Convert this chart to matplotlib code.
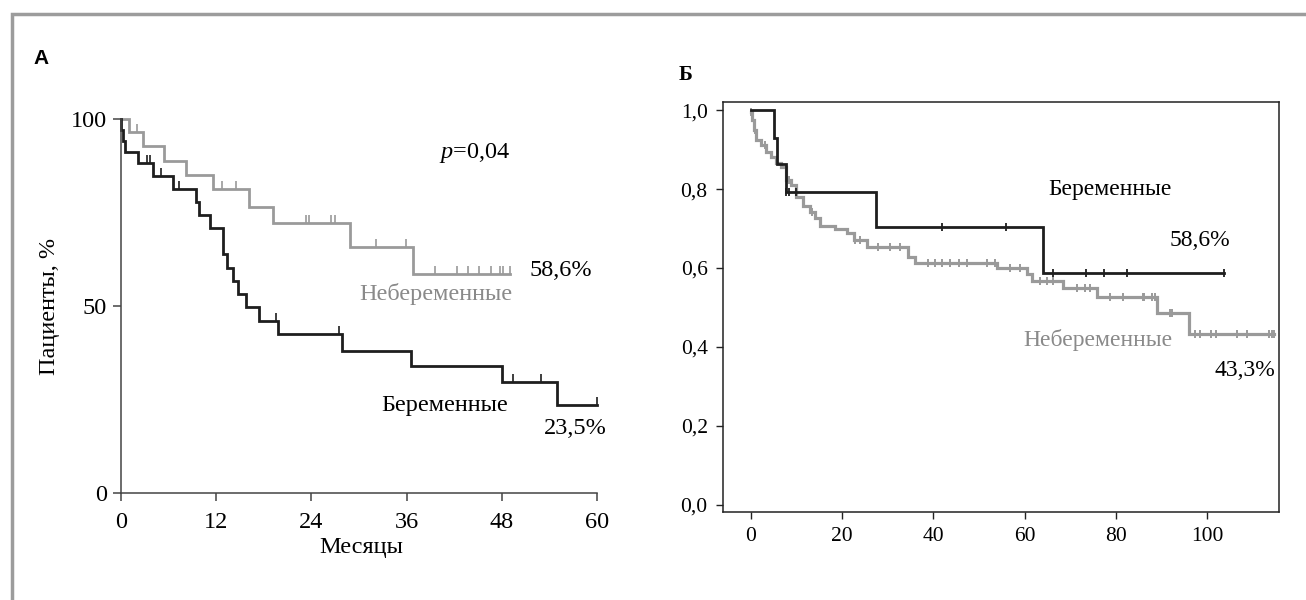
import numpy as np
import matplotlib.pyplot as plt
from matplotlib.patches import Rectangle

plt.rcParams['font.family'] = ['Liberation Serif', 'DejaVu Serif']
plt.rcParams['mathtext.fontset'] = 'custom'
plt.rcParams['mathtext.it'] = 'Liberation Serif:italic'
plt.rcParams['mathtext.rm'] = 'Liberation Serif'

W, H = 1306, 600

# Panel A: months / percent
a_gray_t = [0, 1.0, 2.8, 5.4, 8.2, 11.6, 16.1, 19.2, 28.9, 36.8]
a_gray_s = [100, 96.5, 92.7, 88.9, 85.1, 81.3, 76.6, 72.1, 65.9, 58.6]
a_gray_cens = [2.0, 12.7, 14.5, 23.3, 23.7, 26.5, 27.0, 32.1, 35.9, 39.6,
               42.3, 43.7, 45.1, 46.6, 47.8, 48.1, 49.0]
a_black_t = [0, 0.05, 0.2, 0.5, 2.1, 4.0, 6.5, 9.5, 9.8, 11.2, 12.8, 13.3,
             14.1, 14.8, 15.8, 17.4, 19.8, 27.8, 36.6, 48.0, 55.0]
a_black_s = [100, 97.1, 94.1, 91.2, 88.2, 84.8, 81.3, 77.8, 74.3, 70.8, 63.9,
             60.1, 56.6, 53.2, 49.6, 46.1, 42.4, 38.0, 33.9, 29.6, 23.5]
a_black_cens = [3.3, 3.7, 5.1, 7.3, 19.5, 27.5, 49.4, 52.9, 60.0]
a_xticks = [0, 12, 24, 36, 48, 60]
a_yticks = [0, 50, 100]

# Panel B: months / proportion
b_black_t = [0, 5.0, 5.8, 7.6, 27.4, 63.9]
b_black_s = [1.0, 0.93, 0.865, 0.793, 0.705, 0.586]
b_black_cens = [7.7, 8.3, 9.9, 41.9, 55.9, 66.2, 73.4, 77.3, 82.4, 103.6]
b_gray_t = [0, 0.3, 0.6, 1.2, 2.3, 3.4, 4.5, 5.6, 6.7, 7.8, 8.9, 10.0, 11.5,
            12.9, 14.0, 15.1, 18.4, 21.0, 22.5, 25.4, 34.5, 36.0, 53.9, 60.5,
            61.5, 68.4, 75.8, 89.0, 95.9]
b_gray_s = [0.995, 0.975, 0.95, 0.925, 0.911, 0.895, 0.882, 0.866, 0.856,
            0.824, 0.81, 0.78, 0.756, 0.743, 0.726, 0.706, 0.70, 0.688, 0.671,
            0.654, 0.627, 0.612, 0.600, 0.585, 0.567, 0.549, 0.527, 0.486,
            0.433]
b_gray_cens = [0.1, 1.0, 3.0, 8.3, 13.5, 22.8, 23.9, 27.9, 30.5, 32.7, 38.9,
               40.3, 41.8, 43.6, 45.5, 47.4, 51.7, 53.5, 56.8, 59.0, 63.4,
               64.8, 66.3, 71.4, 73.2, 74.3, 78.7, 81.6, 85.8, 86.2, 87.9,
               88.6, 91.8, 92.2, 97.4, 98.5, 100.7, 101.8, 106.5, 108.7,
               113.5, 114.2, 114.5]
b_xticks = [0, 20, 40, 60, 80, 100]
b_yticks = [0.0, 0.2, 0.4, 0.6, 0.8, 1.0]

GRAY = '#9a9a9a'
BLACK = '#1e1e1e'


def km(ax, t, s, cens, color, lw, marker, ms, mew):
    t = np.array(t, dtype=float)
    s = np.array(s, dtype=float)
    end = max(t[-1], max(cens))
    xs = np.append(t, end)
    ys = np.append(s, s[-1])
    ax.step(xs, ys, where='post', color=color, lw=lw, clip_on=False,
            solid_joinstyle='miter')
    c = np.array(cens)
    cy = s[np.searchsorted(t, c, side='right') - 1]
    ax.plot(c, cy, ls='none', marker=marker, ms=ms, mew=mew, color=color,
            clip_on=False)


def ftext(x, y, s, **kw):
    fig.text(x / W, 1 - y / H, s, **kw)


fig = plt.figure(figsize=(W / 100, H / 100), dpi=100)

# outer frame
fig.add_artist(Rectangle((12 / W, -0.05), 1.1, 1 - 14 / H + 0.05,
                         transform=fig.transFigure, fill=False,
                         edgecolor='#9c9c9c', lw=2.5))

# ---- panel A ----
axA = fig.add_axes([121 / W, 1 - 493 / H, 476 / W, 374 / H])
km(axA, a_gray_t, a_gray_s, a_gray_cens, GRAY, 2.0, 2, 6, 1.2)
km(axA, a_black_t, a_black_s, a_black_cens, BLACK, 2.0, 2, 6, 1.2)
axA.set_xlim(0, 60)
axA.set_ylim(0, 100)
for sp in ['top', 'right']:
    axA.spines[sp].set_visible(False)
for sp in ['left', 'bottom']:
    axA.spines[sp].set_color('#444444')
    axA.spines[sp].set_linewidth(1.1)
axA.set_xticks(a_xticks)
axA.set_yticks(a_yticks)
axA.tick_params(direction='out', length=6, width=1.1, color='#444444',
                labelsize=17.5)
axA.tick_params(axis='x', pad=8)
axA.tick_params(axis='y', pad=4)
axA.set_ylabel('Пациенты, %', fontsize=17.5, labelpad=8)

ftext(41, 58, 'А', fontsize=15, fontweight='bold',
      family=['Liberation Sans', 'DejaVu Sans'], ha='center', va='center')
ftext(361, 548, 'Месяцы', fontsize=17.5, ha='center', va='center')
ftext(475, 153, r'$p$=0,04', fontsize=17.5, ha='center', va='center')
ftext(561, 270, '58,6%', fontsize=17.5, ha='center', va='center')
ftext(512, 294, 'Небеременные', fontsize=17.5, ha='right', va='center',
      color='#8a8a8a')
ftext(508, 405, 'Беременные', fontsize=17.5, ha='right', va='center')
ftext(575, 428, '23,5%', fontsize=17.5, ha='center', va='center')

# ---- panel B ----
axB = fig.add_axes([723 / W, 1 - 512 / H, 556 / W, 410 / H])
km(axB, b_gray_t, b_gray_s, b_gray_cens, GRAY, 2.3, '|', 6, 1.4)
km(axB, b_black_t, b_black_s, b_black_cens, BLACK, 2.0, '|', 6, 1.3)
axB.set_xlim(-6.1, 115.7)
axB.set_ylim(-0.019, 1.021)
for sp in axB.spines.values():
    sp.set_color('#222222')
    sp.set_linewidth(1.1)
axB.set_xticks(b_xticks)
axB.set_yticks(b_yticks)
axB.set_yticklabels([f'{v:.1f}'.replace('.', ',') for v in b_yticks])
axB.tick_params(direction='out', length=5, width=1.0, color='#222222',
                labelsize=15.5, pad=6)

ftext(686, 75, 'Б', fontsize=15, fontweight='bold', ha='center', va='center')
ftext(1110, 190, 'Беременные', fontsize=17, ha='center', va='center')
ftext(1200, 241, '58,6%', fontsize=17, ha='center', va='center')
ftext(1172, 340, 'Небеременные', fontsize=17, ha='right', va='center',
      color='#8a8a8a')
ftext(1245, 371, '43,3%', fontsize=17, ha='center', va='center')

fig.savefig('out.png', dpi=100)
